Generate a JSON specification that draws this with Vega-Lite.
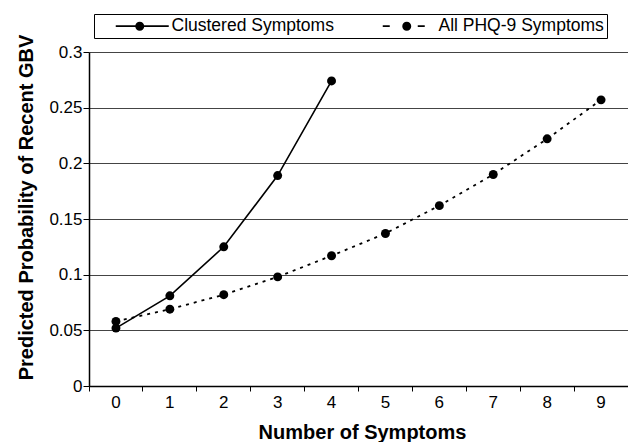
{
  "$schema": "https://vega.github.io/schema/vega-lite/v6.json",
  "autosize": {"type": "none"},
  "padding": {"left": 89, "top": 52, "right": 0, "bottom": 56},
  "width": 539,
  "height": 334,
  "background": "#ffffff",
  "data": {
    "values": [
      {"n": 0, "series": "Clustered Symptoms", "p": 0.052},
      {"n": 1, "series": "Clustered Symptoms", "p": 0.081},
      {"n": 2, "series": "Clustered Symptoms", "p": 0.125},
      {"n": 3, "series": "Clustered Symptoms", "p": 0.189},
      {"n": 4, "series": "Clustered Symptoms", "p": 0.274},
      {"n": 0, "series": "All PHQ-9 Symptoms", "p": 0.058},
      {"n": 1, "series": "All PHQ-9 Symptoms", "p": 0.069},
      {"n": 2, "series": "All PHQ-9 Symptoms", "p": 0.082},
      {"n": 3, "series": "All PHQ-9 Symptoms", "p": 0.098},
      {"n": 4, "series": "All PHQ-9 Symptoms", "p": 0.117},
      {"n": 5, "series": "All PHQ-9 Symptoms", "p": 0.137},
      {"n": 6, "series": "All PHQ-9 Symptoms", "p": 0.162},
      {"n": 7, "series": "All PHQ-9 Symptoms", "p": 0.190},
      {"n": 8, "series": "All PHQ-9 Symptoms", "p": 0.222},
      {"n": 9, "series": "All PHQ-9 Symptoms", "p": 0.257}
    ]
  },
  "encoding": {
    "x": {
      "field": "n",
      "type": "ordinal",
      "scale": {"type": "band", "paddingInner": 0, "paddingOuter": 0, "domain": [0,1,2,3,4,5,6,7,8,9]},
      "axis": {
        "title": "Number of Symptoms",
        "labelAngle": 0,
        "bandPosition": 0,
        "grid": false,
        "tickSize": 5,
        "labelPadding": 3,
        "labelFontSize": 17,
        "titleX": 273,
        "titleY": 52,
        "titleBaseline": "alphabetic"
      }
    },
    "y": {
      "field": "p",
      "type": "quantitative",
      "scale": {"domain": [0, 0.3], "nice": false},
      "axis": {
        "title": "Predicted Probability of Recent GBV",
        "values": [0, 0.05, 0.1, 0.15, 0.2, 0.25, 0.3],
        "format": ".2~f",
        "grid": true,
        "tickSize": 6,
        "labelPadding": 1,
        "labelFontSize": 17,
        "titleAngle": -90,
        "titleX": -57,
        "titleY": 155,
        "titleAlign": "center",
        "titleBaseline": "alphabetic"
      }
    }
  },
  "layer": [
    {
      "transform": [{"filter": "datum.series === 'Clustered Symptoms'"}],
      "mark": {"type": "line", "stroke": "#000000", "strokeWidth": 1.6},
      "encoding": {}
    },
    {
      "transform": [{"filter": "datum.series === 'All PHQ-9 Symptoms'"}],
      "mark": {"type": "line", "stroke": "#000000", "strokeWidth": 1.8, "strokeDash": [3, 5]},
      "encoding": {}
    },
    {
      "mark": {"type": "point", "filled": true, "opacity": 1, "size": 80, "shape": "circle", "color": "#000000"},
      "encoding": {}
    },
    {
      "mark": {"type": "point", "filled": true, "opacity": 0, "size": 100, "fill": "#000000"},
      "encoding": {
        "shape": {
          "field": "series",
          "type": "nominal",
          "scale": {
            "domain": ["Clustered Symptoms", "All PHQ-9 Symptoms"],
            "range": [
              "M-1,-0.16H9.6V0.16H-1ZM2.9,0A0.9,0.9,0,1,1,4.7,0A0.9,0.9,0,1,1,2.9,0Z",
              "M-1,-0.18H0.4V0.18H-1ZM6,-0.18H7.4V0.18H6ZM2.9,0A0.9,0.9,0,1,1,4.7,0A0.9,0.9,0,1,1,2.9,0Z"
            ]
          },
          "legend": {
            "orient": "none",
            "direction": "horizontal",
            "legendX": 5,
            "legendY": -38,
            "title": " ",
            "titleOrient": "left",
            "titleFontSize": 1,
            "titlePadding": 15,
            "padding": 3,
            "columnPadding": 45,
            "strokeColor": "#000000",
            "symbolSize": 100,
            "symbolOpacity": 1,
            "symbolFillColor": "#000000",
            "symbolStrokeWidth": 0,
            "labelOffset": 42,
            "labelLimit": 400,
            "labelFontSize": 17.5,
            "labelColor": "#000000",
            "labelFont": "Liberation Sans",
            "labelExpr": "datum.label + (datum.value === 'All PHQ-9 Symptoms' ? '\u00a0\u00a0\u00a0\u00a0\u00a0' : '')"
          }
        }
      }
    }
  ],
  "config": {
    "view": {"stroke": null},
    "font": "Liberation Sans",
    "axis": {
      "domainColor": "#000000",
      "domainWidth": 1.5,
      "tickColor": "#000000",
      "tickWidth": 1,
      "labelColor": "#000000",
      "labelFont": "Liberation Sans",
      "titleColor": "#000000",
      "titleFont": "Liberation Sans",
      "titleFontSize": 20,
      "titleFontWeight": "bold",
      "gridColor": "#444444",
      "gridWidth": 1.2,
      "gridOpacity": 1
    }
  }
}
